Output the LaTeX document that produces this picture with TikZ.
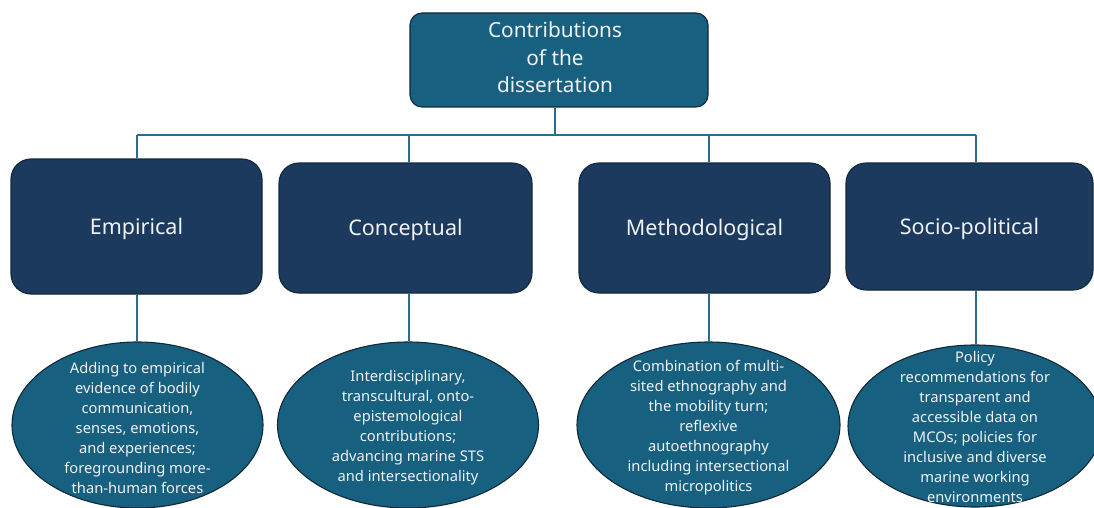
\documentclass[tikz,border=0pt]{standalone}
\usepackage{fontspec}
\setmainfont{Noto Sans}
\usetikzlibrary{shapes.geometric}

\definecolor{headfill}{RGB}{24,96,128}
\definecolor{catfill}{RGB}{27,58,94}
\definecolor{edgedark}{RGB}{16,40,56}
\definecolor{linkline}{RGB}{40,108,142}
\definecolor{labeltext}{RGB}{240,242,245}

\begin{document}
\begin{tikzpicture}[x=1pt,y=-1pt,
  headbox/.style={draw=edgedark, line width=1.1pt, fill=headfill, rounded corners=12pt,
    minimum width=298pt, minimum height=94pt, inner sep=0pt},
  headtext/.style={align=center, text=labeltext, inner sep=0pt,
    font=\fontsize{20.8}{27.5}\selectfont},
  catbox/.style={draw=edgedark, line width=1.1pt, fill=catfill, rounded corners=20pt,
    inner sep=0pt},
  cattext/.style={text=labeltext, inner sep=0pt, font=\fontsize{21.5}{24}\selectfont},
  ovalbox/.style={ellipse, draw=edgedark, line width=1.1pt, fill=headfill, inner sep=0pt},
  ovaltext/.style={align=center, text=labeltext, inner sep=0pt,
    font=\fontsize{14.7}{20}\selectfont},
  link/.style={draw=linkline, line width=1.5pt}
]
\useasboundingbox (0,0) rectangle (1094,508);

% root
\node[headbox] (head) at (559,60) {};
\node[headtext] (headlabel) at (555,57.5) {Contributions\\of the\\dissertation};

% four contribution categories
\node[catbox, minimum width=251pt, minimum height=135pt] (c1) at (136.5,226.5) {};
\node[catbox, minimum width=253pt, minimum height=130pt] (c2) at (405.5,228) {};
\node[catbox, minimum width=251pt, minimum height=130pt] (c3) at (704.5,228) {};
\node[catbox, minimum width=247pt, minimum height=127pt] (c4) at (969.5,226.5) {};
\node[cattext] (l1) at ([yshift=-2pt]c1.center) {Empirical};
\node[cattext] (l2) at ([yshift=-2pt]c2.center) {Conceptual};
\node[cattext] (l3) at ([yshift=-2pt]c3.center) {Methodological};
\node[cattext] (l4) at ([yshift=-2pt]c4.center) {Socio-political};

% detail ovals
\node[ovalbox, minimum width=251pt, minimum height=166pt] (e1) at (137.5,425) {};
\node[ovalbox, minimum width=261pt, minimum height=166pt] (e2) at (408,425) {};
\node[ovalbox, minimum width=263pt, minimum height=166pt] (e3) at (708.5,425) {};
\node[ovalbox, minimum width=254pt, minimum height=162pt] (e4) at (975,426) {};

\node[ovaltext] (t1) at ([yshift=-2.5pt]e1.center) {Adding to empirical\\evidence of bodily\\communication,\\senses, emotions,\\and experiences;\\foregrounding more-\\than-human forces};
\node[ovaltext] (t2) at ([yshift=-2.5pt]e2.center) {Interdisciplinary,\\transcultural, onto-\\epistemological\\contributions;\\advancing marine STS\\and intersectionality};
\node[ovaltext] (t3) at ([yshift=-2.5pt]e3.center) {Combination of multi-\\sited ethnography and\\the mobility turn;\\reflexive\\autoethnography\\including intersectional\\micropolitics};
\node[ovaltext] (t4) at ([yshift=-1pt]e4.center) {Policy\\recommendations for\\transparent and\\accessible data on\\MCOs; policies for\\inclusive and diverse\\marine working\\environments};

% tree connectors
\coordinate (j) at (555,135);
\coordinate (s1) at (137,135);
\coordinate (s2) at (409,135);
\coordinate (s3) at (709,135);
\coordinate (s4) at (976,135);
\draw[link] (j |- head.south) -- (j);
\draw[link] (s1) -- (s4);
\draw[link] (s1) -- (s1 |- c1.north);
\draw[link] (s2) -- (s2 |- c2.north);
\draw[link] (s3) -- (s3 |- c3.north);
\draw[link] (s4) -- (s4 |- c4.north);

\draw[link] (s1 |- c1.south) -- (s1 |- e1.north);
\draw[link] (s2 |- c2.south) -- (s2 |- e2.north);
\draw[link] (s3 |- c3.south) -- (s3 |- e3.north);
\draw[link] (s4 |- c4.south) -- (s4 |- e4.north);
\end{tikzpicture}
\end{document}
